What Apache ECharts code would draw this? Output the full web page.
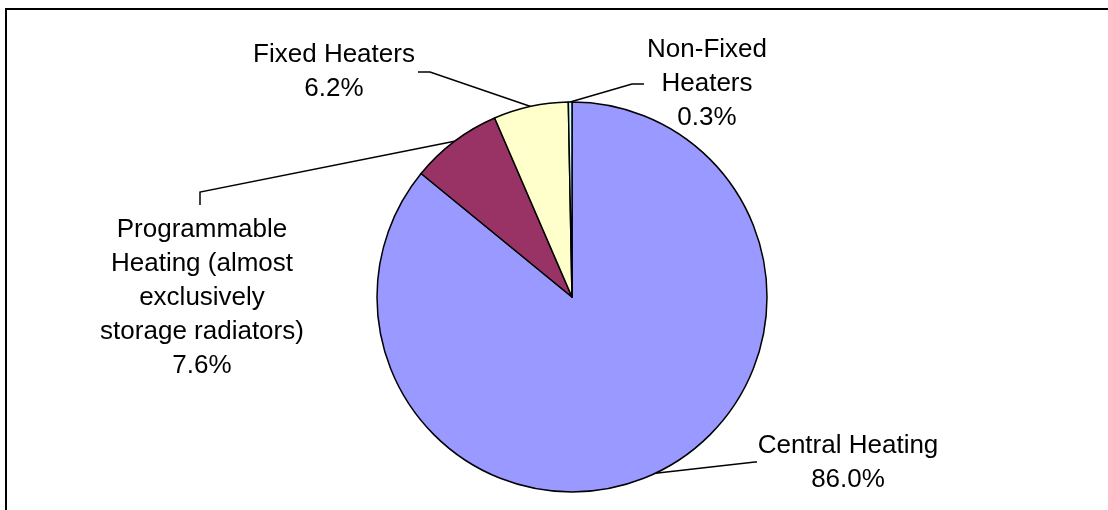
<!DOCTYPE html>
<html>
<head>
<meta charset="utf-8">
<script src="https://cdn.jsdelivr.net/npm/echarts@6/dist/echarts.min.js"></script>
<style>
  html, body { margin: 0; padding: 0; background: #fff; }
  #chart { width: 1108px; height: 510px; }
</style>
</head>
<body>
<div id="chart"></div>
<script>
// heating type shares (%)
const categories = [
  'Central Heating',
  'Programmable\nHeating (almost\nexclusively\nstorage radiators)',
  'Fixed Heaters',
  'Non-Fixed\nHeaters'
];
const shares = [86.0, 7.6, 6.2, 0.3];
const sliceColors = ['#9999FF', '#993366', '#FFFFCC', '#CCFFFF'];

// label block centres and leader line bends (layout only)
const labelSpots = [
  { x: 848, y: 463, bends: [[755, 462], [757, 462]] },
  { x: 202, y: 298, bends: [[200, 192], [200, 205]] },
  { x: 334, y: 72,  bends: [[430, 72], [418, 72]] },
  { x: 707, y: 84,  bends: [[632, 84], [644, 84]] }
];

const chart = echarts.init(document.getElementById('chart'));

const option = {
  animation: false,
  backgroundColor: '#fff',
  graphic: [{
    type: 'rect',
    shape: { x: 6, y: 9, width: 1300, height: 700 },
    style: { fill: 'none', stroke: '#000', lineWidth: 2 },
    silent: true
  }],
  series: [{
    type: 'pie',
    center: [572, 297],
    radius: 195,
    startAngle: 90,
    clockwise: true,
    avoidLabelOverlap: false,
    data: categories.map((name, i) => ({
      name: name,
      value: shares[i],
      itemStyle: { color: sliceColors[i] }
    })),
    itemStyle: { borderColor: '#000', borderWidth: 1.5 },
    label: {
      show: true,
      position: 'outside',
      fontFamily: '"Liberation Sans", Arial, sans-serif',
      fontSize: 26,
      lineHeight: 34,
      color: '#000',
      align: 'center',
      formatter: p => p.name + '\n' + p.value.toFixed(1) + '%'
    },
    labelLine: {
      show: true,
      length: 10,
      length2: 10,
      lineStyle: { color: '#000', width: 1.5 }
    },
    labelLayout: params => {
      const spot = labelSpots[params.dataIndex];
      const start = params.labelLinePoints ? params.labelLinePoints[0] : spot.bends[0];
      return {
        x: spot.x,
        y: spot.y,
        align: 'center',
        verticalAlign: 'middle',
        labelLinePoints: [start, spot.bends[0], spot.bends[1]]
      };
    },
    emphasis: { disabled: true }
  }]
};

chart.setOption(option);
</script>
</body>
</html>
